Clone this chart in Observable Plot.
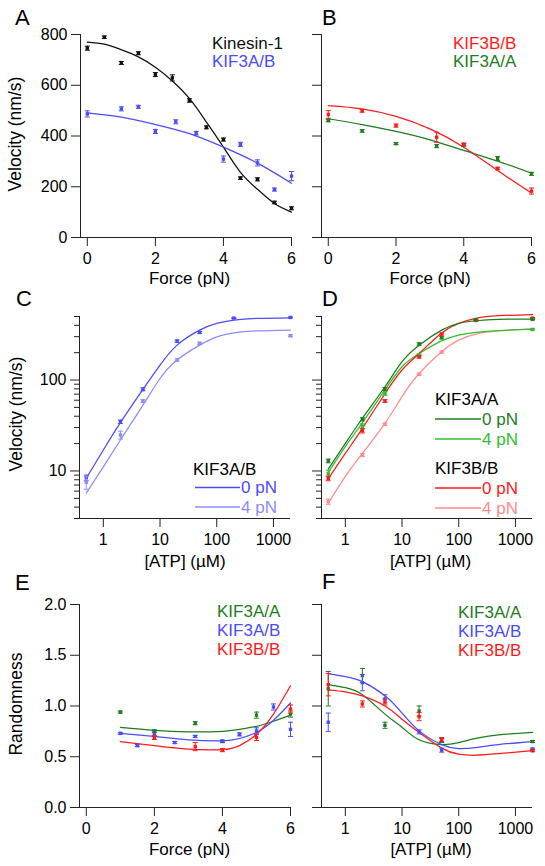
<!DOCTYPE html>
<html><head><meta charset="utf-8">
<script src="https://cdn.jsdelivr.net/npm/d3@7"></script>
<script src="https://cdn.jsdelivr.net/npm/@observablehq/plot@0.6"></script>
<style>
body{margin:0;background:#fff;}
#wrap{position:relative;width:545px;height:866px;overflow:hidden;background:#fff;}
#wrap svg{position:absolute;overflow:visible;}
</style></head><body><div id="wrap"></div>
<script>
// ---------- colours ----------
const cBlack = "#111111", cBlue = "#4b4bff", cLightBlue = "#8c8cff",
      cRed = "#ff1a1a", cPink = "#ff8c8c", cGreen = "#1e7d1e", cLightGreen = "#2fc02f";

// ---------- Panel A: velocity vs force ----------
const forceA_kin = [0,0.5,1,1.5,2,2.5,3,3.5,4,4.5,5,5.5,6];
const velA_kin   = [746,789,688,726,642,629,540,434,386,234,229,138,115];
const errA_kin   = [8,5,6,6,8,12,7,6,6,5,6,5,6];
const forceA_ab  = [0,1,1.5,2,2.6,3.2,4,4.5,5,5.5,6];
const velA_ab    = [487,507,515,418,456,411,309,367,294,189,242];
const errA_ab    = [12,8,6,8,8,7,12,8,12,6,18];
const fitForceA_kin = [0,0.5,1,1.5,2,2.5,3,3.5,4,4.5,5,5.5,6];
const fitA_kin      = [770,762,740,712,671,617,548,455,356,257,190,134,100];
const fitForceA_ab  = [0,1,2,3,4,5,6];
const fitA_ab       = [491,474,445,409,356,293,214];

// ---------- Panel B ----------
const forceB   = [0,1,2,3.2,4,5,6];
const velB_bb  = [485,499,441,395,367,272,183];
const errB_bb  = [15,5,6,20,5,5,12];
const velB_aa  = [461,420,370,360,365,311,251];
const errB_aa  = [5,5,4,6,5,8,6];
const fitForceB = [0,1,2,3,4,5,6];
const fitB_bb  = [520,507,477,428,356,264,175];
const fitB_aa  = [468,445,418,385,343,301,253];

// ---------- Panel C: velocity vs ATP (KIF3A/B) ----------
const atpC0   = [0.5,2,5,20,50,200,2000];
const velC_0  = [8.4,34.8,79,268,334,480,488];
const errC_0  = [0.6,1.5,3,8,8,6,6];
const atpC4   = [0.5,2,5,20,50,2000];
const velC_4  = [7.5,24.9,58.8,166,253,307];
const errC_4  = [1.2,2.5,2,5,8,8];
const atpFit  = [0.5,1,2,5,10,20,50,100,200,500,2000];
const fitC_0  = [8.3,17,34,79,146,242,354,420,456,476,483];
const fitC_4  = [5.7,11.1,21.9,53,104,166,242,299,330,347,355];

// ---------- Panel D ----------
const atpD_aa0 = [0.5,2,5,20,50,200,2000];
const velD_aa0 = [12.9,37,79.6,249,292,460,465];
const errD_aa0 = [0.6,1.5,3,8,8,8,6];
const atpD_aa4 = [0.5,2,5,20,2000];
const velD_aa4 = [9.4,31,71,188,360];
const errD_aa4 = [0.8,2,3,6,6];
const atpD_bb0 = [0.5,2,5,20,50,200,2000];
const velD_bb0 = [8.3,27.7,58.8,180,320,452,480];
const errD_bb0 = [0.5,1.5,2,6,8,8,6];
const atpD_bb4 = [0.5,2,5,20,50,2000];
const velD_bb4 = [4.6,15,32.6,116,203,360];
const errD_bb4 = [0.3,0.6,1,3,5,6];
const fitD_aa0 = [10.5,20.1,38,84.4,159,242,354,420,449,465,467];
const fitD_aa4 = [9.6,18.5,34,78,140,196,270,312,334,350,363];
const fitD_bb0 = [8.2,15.6,29.4,71,129,196,330,420,476,510,526];
const fitD_bb4 = [4.4,8.7,15.6,33.4,65.6,118,205,275,320,347,366];

// ---------- Panel E: randomness vs force ----------
const forceE_aa = [1,2,3.2,4,5,6];
const randE_aa  = [0.94,0.755,0.83,0.65,0.91,0.92];
const errE_aa   = [0.01,0.01,0.015,0.01,0.03,0.03];
const forceE_ab = [1,1.5,2,2.6,3.2,4,4.5,5,5.5,6];
const randE_ab  = [0.73,0.61,0.72,0.64,0.70,0.655,0.72,0.755,0.99,0.77];
const errE_ab   = [0.01,0.01,0.02,0.01,0.01,0.01,0.015,0.03,0.03,0.07];
const forceE_bb = [2,3.2,4,5,6];
const randE_bb  = [0.69,0.60,0.565,0.69,0.97];
const errE_bb   = [0.02,0.04,0.015,0.03,0.04];
const fitForceE = [1,2,3,4,4.5,5,5.5,6];
const fitE_aa   = [0.79,0.76,0.745,0.75,0.77,0.80,0.85,0.91];
const fitE_ab   = [0.73,0.70,0.667,0.657,0.68,0.74,0.86,1.03];
const fitE_bb   = [0.65,0.61,0.575,0.57,0.61,0.72,0.92,1.20];

// ---------- Panel F: randomness vs ATP ----------
const atpF     = [0.5,2,5,20,50,2000];
const randF_aa = [1.17,1.30,0.81,0.95,0.66,0.65];
const errF_aa  = [0.17,0.07,0.03,0.05,0.02,0.01];
const randF_ab = [0.84,1.23,1.07,0.745,0.565,0.575];
const errF_ab  = [0.09,0.08,0.04,0.02,0.02,0.01];
const randF_bb = [1.21,1.02,1.04,0.895,0.67,0.56];
const errF_bb  = [0.11,0.03,0.03,0.04,0.02,0.01];
const fitF_aa  = [1.21,1.18,1.11,0.92,0.79,0.667,0.62,0.64,0.68,0.715,0.74];
const fitF_ab  = [1.32,1.29,1.24,1.10,0.93,0.755,0.62,0.58,0.59,0.62,0.65];
const fitF_bb  = [1.16,1.14,1.10,1.00,0.87,0.74,0.585,0.525,0.515,0.53,0.56];

// ---------- tick labels ----------
const velTicks   = [0,200,400,600,800];
const forceTicks = [0,2,4,6];
const atpTicks   = [1,10,100,1000];
const logMajor   = [10,100];
const logMinor   = [3,4,5,6,7,8,9,20,30,40,50,60,70,80,90,200,300,400,500];
const randTicks  = [0,0.5,1,1.5,2];

// ---------- helpers ----------
const FONT = "'Liberation Sans', Arial, Helvetica, sans-serif";
const wrap = document.getElementById("wrap");
const capSymbol = {draw(ctx){ ctx.moveTo(-2.5,0); ctx.lineTo(2.5,0); }};
const rows = (xs, ys, es) => xs.map((x,i)=>({x, y: ys[i], e: es ? es[i] : 0}));

function seriesMarks(xs, ys, es, color){
  const d = rows(xs, ys, es);
  return [
    Plot.ruleX(d, {x:"x", y1: r=>r.y-r.e, y2: r=>r.y+r.e, stroke: color, strokeWidth: 1}),
    Plot.dot(d, {x:"x", y: r=>r.y+r.e, symbol: capSymbol, r: 3, fill: "none", stroke: color, strokeWidth: 1}),
    Plot.dot(d, {x:"x", y: r=>r.y-r.e, symbol: capSymbol, r: 3, fill: "none", stroke: color, strokeWidth: 1}),
    Plot.dot(d, {x:"x", y:"y", symbol:"square", r: 1.9, fill: color})
  ];
}
const fitMark = (xs, ys, color) =>
  Plot.line(rows(xs, ys), {x:"x", y:"y", stroke: color, strokeWidth: 1.25, curve: "natural"});

// annotation mark: texts & legend lines in svg-local pixels
function annot(items){
  return () => {
    const g = d3.create("svg:g").attr("font-family", FONT);
    for (const it of items){
      if (it.line) g.append("line").attr("x1", it.line[0]).attr("x2", it.line[1])
        .attr("y1", it.y).attr("y2", it.y).attr("stroke", it.color).attr("stroke-width", 1.3);
      const t = g.append("text").attr("fill", it.color || "#000")
        .attr("font-size", it.size || 17).attr("text-anchor", it.anchor || "start").text(it.text);
      if (it.rotate){
        t.attr("transform", `translate(${it.x},${it.y}) rotate(${it.rotate})`).attr("dy", "0.35em");
      } else {
        t.attr("x", it.x).attr("y", it.y);
        if (it.line || it.mid) t.attr("dy", "0.35em");
      }
    }
    return g.node();
  };
}

function panel(o){
  const p = Plot.plot({
    width: o.width, height: o.height,
    marginLeft: o.mL, marginRight: o.mR, marginTop: o.mT, marginBottom: o.mB,
    x: o.x, y: o.y,
    style: {fontFamily: FONT, fontSize: "16px", background: "transparent", overflow: "visible", color: "#000"},
    marks: o.marks
  });
  p.style.position = "absolute"; p.style.left = o.left + "px"; p.style.top = o.top + "px";
  p.style.maxWidth = "none";
  wrap.appendChild(p);
}

const noLabel = () => "";
const fmtPlain = d => String(d);
const xAxis = (ticks) =>
  Plot.axisX({ticks, tickSize: 9, tickPadding: 6, label: null, tickFormat: fmtPlain, fontSize: 16, stroke: "#222"});
const linYAxis = (ticks, fmt) =>
  Plot.axisY({ticks, tickSize: 9, tickPadding: 4, label: null, tickFormat: fmt, fontSize: 16, stroke: "#222"});
const logYAxes = (labelled) => [
  Plot.axisY({ticks: logMajor, tickSize: 9, tickPadding: 4, label: null, tickFormat: labelled ? fmtPlain : noLabel, fontSize: 16, stroke: "#222"}),
  Plot.axisY({ticks: logMinor, tickSize: 5, label: null, tickFormat: noLabel, stroke: "#222"})
];

// ---------- A ----------
panel({left:0, top:0, width:300, height:290, mL:80, mR:9, mT:34, mB:53,
  x:{domain:[-0.2,6]}, y:{domain:[0,800]},
  marks:[
    xAxis(forceTicks), linYAxis(velTicks, fmtPlain),
    Plot.ruleX([-0.2], {stroke:"#222"}), Plot.ruleY([0], {stroke:"#222"}),
    fitMark(fitForceA_kin, fitA_kin, cBlack), fitMark(fitForceA_ab, fitA_ab, cBlue),
    ...seriesMarks(forceA_kin, velA_kin, errA_kin, cBlack),
    ...seriesMarks(forceA_ab, velA_ab, errA_ab, cBlue),
    annot([
      {text:"A", x:15, y:25, size:22},
      {text:"Velocity (nm/s)", x:15, y:134, rotate:-90, anchor:"middle", size:17.5},
      {text:"Force (pN)", x:189.5, y:284, anchor:"middle", size:17},
      {text:"Kinesin-1", x:212, y:49, color:cBlack},
      {text:"KIF3A/B", x:212, y:67, color:cBlue}
    ])
  ]});

// ---------- B ----------
panel({left:290, top:0, width:255, height:290, mL:31, mR:14, mT:34, mB:53,
  x:{domain:[-0.2,6]}, y:{domain:[0,800]},
  marks:[
    xAxis(forceTicks), linYAxis(velTicks, noLabel),
    Plot.ruleX([-0.2], {stroke:"#222"}), Plot.ruleY([0], {stroke:"#222"}),
    fitMark(fitForceB, fitB_aa, cGreen), fitMark(fitForceB, fitB_bb, cRed),
    ...seriesMarks(forceB, velB_aa, errB_aa, cGreen),
    ...seriesMarks(forceB, velB_bb, errB_bb, cRed),
    annot([
      {text:"B", x:32, y:25, size:22},
      {text:"Force (pN)", x:140, y:284, anchor:"middle", size:17},
      {text:"KIF3B/B", x:163, y:49, color:cRed},
      {text:"KIF3A/A", x:163, y:67, color:cGreen}
    ])
  ]});

// ---------- C ----------
panel({left:0, top:290, width:300, height:290, mL:79, mR:10, mT:26, mB:62,
  x:{type:"log", domain:[0.38,2000]}, y:{type:"log", domain:[3,500]},
  marks:[
    xAxis(atpTicks), ...logYAxes(true),
    Plot.ruleX([0.38], {stroke:"#222"}), Plot.ruleY([3], {stroke:"#222"}),
    fitMark(atpFit, fitC_0, cBlue), fitMark(atpFit, fitC_4, cLightBlue),
    ...seriesMarks(atpC0, velC_0, errC_0, cBlue),
    ...seriesMarks(atpC4, velC_4, errC_4, cLightBlue),
    annot([
      {text:"C", x:16, y:16, size:22},
      {text:"Velocity (nm/s)", x:15.5, y:124, rotate:-90, anchor:"middle", size:17.5},
      {text:"[ATP] (µM)", x:185, y:277, anchor:"middle", size:17},
      {text:"KIF3A/B", x:193, y:185, color:"#000"},
      {text:"0 pN", x:241, y:197.5, color:cBlue, line:[195,240]},
      {text:"4 pN", x:241, y:217, color:cLightBlue, line:[195,240]}
    ])
  ]});

// ---------- D ----------
panel({left:290, top:290, width:255, height:290, mL:31, mR:13, mT:26, mB:62,
  x:{type:"log", domain:[0.38,2000]}, y:{type:"log", domain:[3,500]},
  marks:[
    xAxis(atpTicks), ...logYAxes(false),
    Plot.ruleX([0.38], {stroke:"#222"}), Plot.ruleY([3], {stroke:"#222"}),
    fitMark(atpFit, fitD_bb4, cPink), fitMark(atpFit, fitD_aa4, cLightGreen),
    fitMark(atpFit, fitD_bb0, cRed), fitMark(atpFit, fitD_aa0, cGreen),
    ...seriesMarks(atpD_bb4, velD_bb4, errD_bb4, cPink),
    ...seriesMarks(atpD_aa4, velD_aa4, errD_aa4, cLightGreen),
    ...seriesMarks(atpD_bb0, velD_bb0, errD_bb0, cRed),
    ...seriesMarks(atpD_aa0, velD_aa0, errD_aa0, cGreen),
    annot([
      {text:"D", x:32, y:16, size:22},
      {text:"[ATP] (µM)", x:140.5, y:277, anchor:"middle", size:17},
      {text:"KIF3A/A", x:145, y:115, color:"#000"},
      {text:"0 pN", x:192, y:129, color:cGreen, line:[145,191]},
      {text:"4 pN", x:192, y:149, color:cLightGreen, line:[145,191]},
      {text:"KIF3B/B", x:145, y:184, color:"#000"},
      {text:"0 pN", x:192, y:198, color:cRed, line:[145,191]},
      {text:"4 pN", x:192, y:218, color:cPink, line:[145,191]}
    ])
  ]});

// ---------- E ----------
panel({left:0, top:580, width:300, height:286, mL:79, mR:10, mT:24, mB:59,
  x:{domain:[-0.2,6]}, y:{domain:[0,2]},
  marks:[
    xAxis(forceTicks), linYAxis(randTicks, d3.format(".1f")),
    Plot.ruleX([-0.2], {stroke:"#222"}), Plot.ruleY([0], {stroke:"#222"}),
    fitMark(fitForceE, fitE_aa, cGreen), fitMark(fitForceE, fitE_ab, cBlue), fitMark(fitForceE, fitE_bb, cRed),
    ...seriesMarks(forceE_aa, randE_aa, errE_aa, cGreen),
    ...seriesMarks(forceE_ab, randE_ab, errE_ab, cBlue),
    ...seriesMarks(forceE_bb, randE_bb, errE_bb, cRed),
    annot([
      {text:"E", x:15, y:10, size:22},
      {text:"Randomness", x:15.5, y:124, rotate:-90, anchor:"middle", size:17.5},
      {text:"Force (pN)", x:189.5, y:275, anchor:"middle", size:17},
      {text:"KIF3A/A", x:217, y:37, color:cGreen},
      {text:"KIF3A/B", x:217, y:56, color:cBlue},
      {text:"KIF3B/B", x:217, y:75, color:cRed}
    ])
  ]});

// ---------- F ----------
panel({left:290, top:580, width:255, height:286, mL:31, mR:13, mT:24, mB:59,
  x:{type:"log", domain:[0.38,2000]}, y:{domain:[0,2]},
  marks:[
    xAxis(atpTicks),
    Plot.axisY({ticks: randTicks, tickSize: 9, label: null, tickFormat: noLabel, stroke:"#222"}),
    Plot.ruleX([0.38], {stroke:"#222"}), Plot.ruleY([0], {stroke:"#222"}),
    fitMark(atpFit, fitF_aa, cGreen), fitMark(atpFit, fitF_ab, cBlue), fitMark(atpFit, fitF_bb, cRed),
    ...seriesMarks(atpF, randF_aa, errF_aa, cGreen),
    ...seriesMarks(atpF, randF_ab, errF_ab, cBlue),
    ...seriesMarks(atpF, randF_bb, errF_bb, cRed),
    annot([
      {text:"F", x:32, y:9, size:22},
      {text:"[ATP] (µM)", x:141, y:275, anchor:"middle", size:17},
      {text:"KIF3A/A", x:168, y:38, color:cGreen},
      {text:"KIF3A/B", x:168, y:57, color:cBlue},
      {text:"KIF3B/B", x:168, y:76, color:cRed}
    ])
  ]});
</script></body></html>
